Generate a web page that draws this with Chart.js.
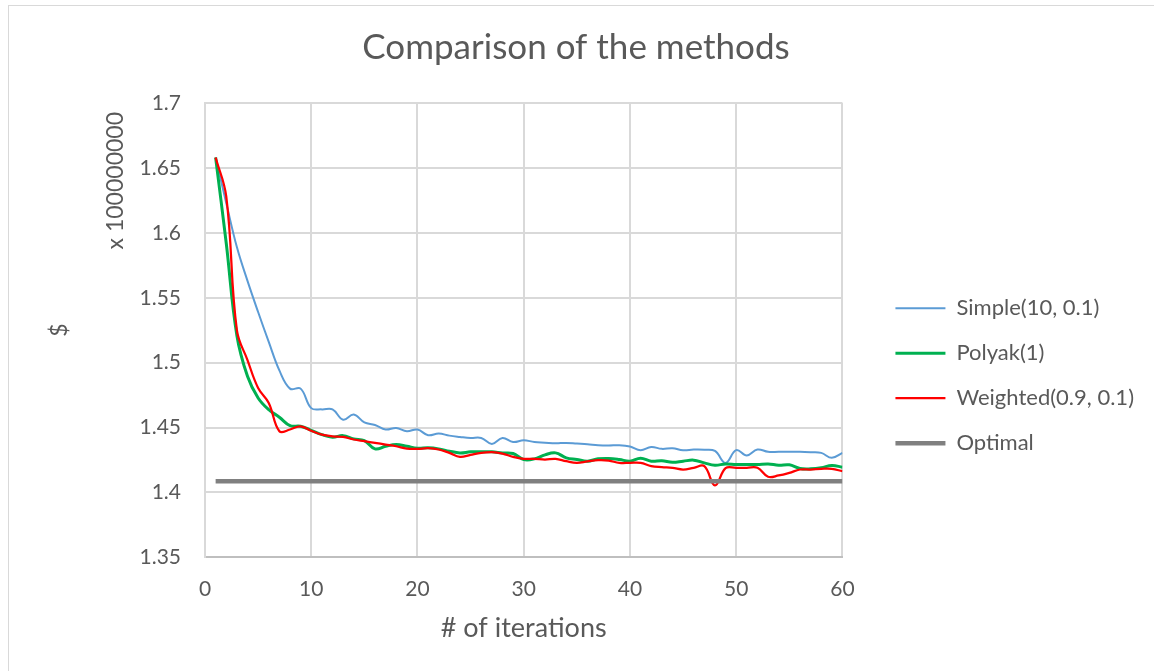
<!DOCTYPE html>
<html>
<head>
<meta charset="utf-8">
<script src="https://cdn.jsdelivr.net/npm/chart.js@4"></script>
<style>
  body { margin: 0; background: #fff; }
</style>
</head>
<body>
<canvas id="methodsChart" width="1154" height="671"></canvas>
<script>
const iterations = [1, 2, 3, 4, 5, 6, 7, 8, 9, 10, 11, 12, 13, 14, 15, 16, 17, 18, 19, 20,
  21, 22, 23, 24, 25, 26, 27, 28, 29, 30, 31, 32, 33, 34, 35, 36, 37, 38, 39, 40,
  41, 42, 43, 44, 45, 46, 47, 48, 49, 50, 51, 52, 53, 54, 55, 56, 57, 58, 59, 60];

// values in units of 100000000 $
const simple = [1.658, 1.623, 1.589, 1.563, 1.539, 1.516, 1.494, 1.480, 1.480, 1.465,
  1.464, 1.464, 1.456, 1.460, 1.454, 1.452, 1.4485, 1.4497, 1.4472, 1.4485,
  1.4441, 1.4454, 1.4438, 1.4428, 1.442, 1.442, 1.4374, 1.442, 1.4389, 1.4402,
  1.4389, 1.4384, 1.4379, 1.4382, 1.4377, 1.4372, 1.4364, 1.4362, 1.4364, 1.4354,
  1.4326, 1.4351, 1.4336, 1.4341, 1.4326, 1.4331, 1.433, 1.432, 1.4228, 1.4326,
  1.4285, 1.4331, 1.4313, 1.4313, 1.4313, 1.4313, 1.431, 1.4305, 1.4267, 1.4305];

const polyak = [1.658, 1.592, 1.521, 1.4895, 1.4728, 1.4638, 1.458, 1.4515, 1.451, 1.4479,
  1.4446, 1.4426, 1.4438, 1.4413, 1.440, 1.4336, 1.4356, 1.4369, 1.4356, 1.4341,
  1.4344, 1.4336, 1.4318, 1.4305, 1.4313, 1.4313, 1.4313, 1.4305, 1.430, 1.4254,
  1.4259, 1.429, 1.4305, 1.4267, 1.4254, 1.4241, 1.4259, 1.4262, 1.4254, 1.4241,
  1.4264, 1.4241, 1.4244, 1.4233, 1.4241, 1.4249, 1.4228, 1.421, 1.422, 1.4215,
  1.4215, 1.4215, 1.422, 1.421, 1.4213, 1.4185, 1.4182, 1.419, 1.4208, 1.4195];

const weighted = [1.658, 1.628, 1.525, 1.502, 1.4805, 1.469, 1.4472, 1.4485, 1.451, 1.4475,
  1.4446, 1.4433, 1.4428, 1.4408, 1.4395, 1.4382, 1.4369, 1.4356, 1.4338, 1.4336,
  1.4341, 1.4331, 1.4305, 1.4274, 1.429, 1.4305, 1.431, 1.430, 1.4274, 1.4259,
  1.4259, 1.4254, 1.4259, 1.4241, 1.4228, 1.4239, 1.4249, 1.4246, 1.4228, 1.4228,
  1.4228, 1.4203, 1.4195, 1.419, 1.4177, 1.419, 1.4203, 1.4054, 1.4187, 1.419,
  1.419, 1.419, 1.4121, 1.4131, 1.4151, 1.4177, 1.4177, 1.4182, 1.4182, 1.4164];

const optimal = [1.4087, 1.4087, 1.4087, 1.4087, 1.4087, 1.4087, 1.4087, 1.4087, 1.4087, 1.4087,
  1.4087, 1.4087, 1.4087, 1.4087, 1.4087, 1.4087, 1.4087, 1.4087, 1.4087, 1.4087,
  1.4087, 1.4087, 1.4087, 1.4087, 1.4087, 1.4087, 1.4087, 1.4087, 1.4087, 1.4087,
  1.4087, 1.4087, 1.4087, 1.4087, 1.4087, 1.4087, 1.4087, 1.4087, 1.4087, 1.4087,
  1.4087, 1.4087, 1.4087, 1.4087, 1.4087, 1.4087, 1.4087, 1.4087, 1.4087, 1.4087,
  1.4087, 1.4087, 1.4087, 1.4087, 1.4087, 1.4087, 1.4087, 1.4087, 1.4087, 1.4087];

const seriesNames = ['Simple(10, 0.1)', 'Polyak(1)', 'Weighted(0.9, 0.1)', 'Optimal'];
const yTicks = [1.35, 1.4, 1.45, 1.5, 1.55, 1.6, 1.65, 1.7];
const xTicks = [0, 10, 20, 30, 40, 50, 60];

const textColor = '#595959';
const gridColor = '#d9d9d9';
const fontFamily = 'Lato, "Open Sans", sans-serif';

const points = values => values.map((v, i) => ({ x: iterations[i], y: v }));

const line = (label, values, color, width, order) => ({
  label,
  data: points(values),
  borderColor: color,
  backgroundColor: color,
  borderWidth: width,
  pointRadius: 0,
  tension: 0.4,
  fill: false,
  order
});

// frame round the chart and the display-unit label of the value axis
const extras = {
  id: 'extras',
  beforeDraw(chart) {
    const c = chart.ctx;
    c.save();
    c.fillStyle = '#fff';
    c.fillRect(0, 0, chart.width, chart.height);
    c.strokeStyle = gridColor;
    c.lineWidth = 1;
    c.strokeRect(8.5, 5.5, chart.width + 10, chart.height + 10);
    c.restore();
  },
  afterDraw(chart) {
    const c = chart.ctx;
    const area = chart.chartArea;
    c.save();
    c.font = '23px ' + fontFamily;
    c.fillStyle = textColor;
    c.translate(area.left - 89, area.top + 9);
    c.rotate(-Math.PI / 2);
    c.textAlign = 'right';
    c.textBaseline = 'middle';
    c.fillText('x 100000000', 0, 0);
    c.restore();
  }
};

const ctx = document.getElementById('methodsChart').getContext('2d');

const config = {
  type: 'line',
  data: {
    datasets: [
      line(seriesNames[0], simple, '#5b9bd5', 2, 3),
      line(seriesNames[1], polyak, '#00b050', 3, 2),
      line(seriesNames[2], weighted, '#ff0000', 2.25, 1),
      line(seriesNames[3], optimal, '#808080', 4.5, 0)
    ]
  },
  options: {
    responsive: false,
    animation: false,
    devicePixelRatio: 1,
    layout: { padding: { left: 8, right: 10, top: 0, bottom: 0 } },
    plugins: {
      title: {
        display: true,
        text: 'Comparison of the methods',
        color: textColor,
        font: { family: fontFamily, size: 35, weight: 'normal' },
        padding: { top: 27, bottom: 34 }
      },
      legend: {
        position: 'right',
        maxWidth: 320,
        title: { display: true, text: '', padding: { top: 0, bottom: 66 } },
        labels: {
          color: textColor,
          font: { family: fontFamily, size: 22 },
          usePointStyle: true,
          pointStyle: 'line',
          pointStyleWidth: 50,
          padding: 23,
          sort: (a, b) => a.datasetIndex - b.datasetIndex
        }
      },
      tooltip: { enabled: false }
    },
    scales: {
      x: {
        type: 'linear',
        min: xTicks[0],
        max: xTicks[xTicks.length - 1],
        afterBuildTicks: s => { s.ticks = xTicks.map(v => ({ value: v })); },
        grid: { color: gridColor, lineWidth: 2, drawTicks: true, tickLength: 19, tickColor: 'rgba(0,0,0,0)' },
        border: { color: '#bfbfbf', width: 2 },
        ticks: { color: textColor, font: { family: fontFamily, size: 21 }, padding: 0 },
        title: {
          display: true,
          text: '# of iterations',
          color: textColor,
          font: { family: fontFamily, size: 27 },
          padding: { top: 10, bottom: 27 }
        }
      },
      y: {
        min: yTicks[0],
        max: yTicks[yTicks.length - 1],
        afterBuildTicks: s => { s.ticks = yTicks.map(v => ({ value: v })); },
        afterFit: s => { s.width = 197; },
        grid: { color: gridColor, lineWidth: 2, drawTicks: false },
        border: { color: gridColor, width: 2 },
        ticks: {
          color: textColor,
          font: { family: fontFamily, size: 21 },
          padding: 24,
          callback: v => String(Number(v.toFixed(2)))
        },
        title: {
          display: true,
          text: '$',
          color: textColor,
          font: { family: fontFamily, size: 23 },
          padding: { top: 38, bottom: 0 }
        }
      },
      spacer: {
        type: 'linear',
        position: 'right',
        grid: { display: false },
        border: { display: false },
        ticks: { display: false },
        afterFit: s => { s.width = 30; }
      }
    }
  },
  plugins: [extras]
};

const methodsChart = new Chart(ctx, config);
</script>
</body>
</html>
